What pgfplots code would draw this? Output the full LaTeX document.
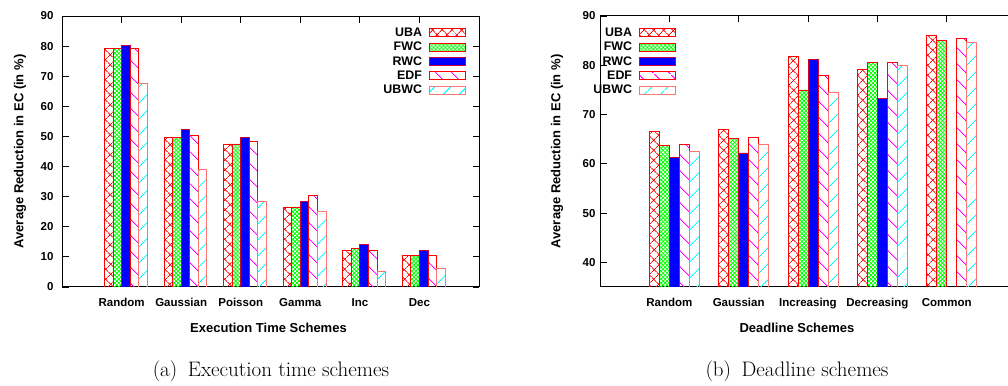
\documentclass[border=0pt]{standalone}
\usepackage{fontspec}
\usepackage{pgfplots}
\usepackage{pgfplotstable}
\pgfplotsset{compat=1.18}
\usetikzlibrary{patterns.meta}

\newfontfamily\gpfont{Liberation Sans}
\newcommand\lab{\gpfont\bfseries\fontsize{11.5bp}{13bp}\selectfont}
\newcommand\axlab{\gpfont\bfseries\fontsize{13bp}{15bp}\selectfont}
\newcommand\leglab{\gpfont\bfseries\fontsize{12.4bp}{14bp}\selectfont}

% Average reduction in EC (%) per execution time scheme
\pgfplotstableread{
x UBA  FWC  RWC  EDF  UBWC
0 79.1 79.1 80.2 79.3 67.6
1 49.6 49.6 52.3 50.5 39.2
2 47.5 47.5 49.8 48.2 28.3
3 26.6 26.6 28.5 30.5 25.0
4 12.1 12.8 14.0 12.1 5.3
5 10.5 10.5 12.0 10.6 6.2
}\exectable

% Average reduction in EC (%) per deadline scheme
\pgfplotstableread{
x UBA  FWC  RWC  EDF  UBWC
0 66.6 63.8 61.3 63.9 62.5
1 67.0 65.1 62.2 65.3 64.0
2 81.7 75.0 81.1 78.0 74.5
3 79.1 80.5 73.2 80.6 80.0
4 86.1 85.1 nan  85.4 84.7
}\deadtable

\pgfplotsset{
  sUBA/.style={draw=red, line width=0.8bp, bar shift=-0.216,
    pattern={Hatch[angle=45,distance=6.8bp,line width=0.8bp]}, pattern color=red},
  sFWC/.style={draw=red, line width=0.8bp, bar shift=-0.072,
    pattern={Hatch[angle=45,distance=2.8bp,line width=0.8bp]}, pattern color=green},
  sRWC/.style={draw=red!80!blue, line width=0.8bp, bar shift=0.072, fill=blue},
  sEDF/.style={draw=red, line width=0.8bp, bar shift=0.216,
    pattern={Lines[angle=-45,distance=11.8bp,line width=1bp]}, pattern color=magenta},
  sUBWC/.style={draw=red!55, line width=0.8bp, bar shift=0.36,
    pattern={Lines[angle=45,distance=11.8bp,line width=1bp]}, pattern color=cyan},
  gpbars/.style={
    scale only axis, height=271bp,
    ybar, bar width=0.144,
    xmin=-1, xtick={0,...,5},
    tick align=inside, major tick length=6.5bp,
    tick style={black, line width=0.8bp},
    axis line style={line width=1bp},
    ticklabel style={font=\lab},
    /pgf/number format/assume math mode=true,
    label style={font=\axlab},
    xticklabel style={yshift=-8bp},
    legend plot pos=right,
    legend cell align=right,
    legend style={draw=none, fill=none, font=\leglab, inner sep=0pt, outer sep=0pt,
      anchor=north east, row sep=4.75bp, column sep=7.3bp,
      nodes={inner sep=0pt, text height=8.9bp, text depth=0pt}},
    legend image code/.code={\draw[##1] (0bp,-4.8bp) rectangle (36bp,3.2bp);},
  },
}

\begin{document}
\begin{tikzpicture}
\useasboundingbox (0,0) rectangle (1008bp,386bp);

\begin{axis}[gpbars,
  at={(62bp,99bp)}, anchor=south west, width=417bp,
  xmax=6, ymin=0, ymax=90, ytick={0,10,...,90},
  xticklabels={Random,Gaussian,Poisson,Gamma,Inc,Dec},
  yticklabel style={xshift=-5bp},
  xlabel={Execution Time Schemes},
  xlabel style={at={(axis description cs:0.5,0)}, anchor=center, yshift=-41bp, xshift=-2bp},
  ylabel={Average Reduction in EC (in \%)},
  ylabel style={at={(axis description cs:-0.1007,0.5)}, anchor=center},
  legend style={at={(axis description cs:0.969,0.958)}},
]
\addplot[sUBA]  table[x=x,y=UBA]  {\exectable};
\addplot[sFWC]  table[x=x,y=FWC]  {\exectable};
\addplot[sRWC]  table[x=x,y=RWC]  {\exectable};
\addplot[sEDF]  table[x=x,y=EDF]  {\exectable};
\addplot[sUBWC] table[x=x,y=UBWC] {\exectable};
\legend{UBA,FWC,RWC,EDF,UBWC}
\end{axis}

\begin{axis}[gpbars,
  at={(600bp,99bp)}, anchor=south west, width=416bp,
  xmax=5, ymin=35, ymax=90, ytick={40,50,...,90},
  xtick={0,...,4},
  xticklabels={Random,Gaussian,Increasing,Decreasing,Common},
  yticklabel style={xshift=-1bp},
  xlabel={Deadline Schemes},
  xlabel style={at={(axis description cs:0.5,0)}, anchor=center, yshift=-41bp, xshift=-11bp},
  ylabel={Average Reduction in EC (in \%)},
  ylabel style={at={(axis description cs:-0.103,0.5)}, anchor=center},
  legend style={at={(axis description cs:0.183,0.958)}},
]
\addplot[sUBA]  table[x=x,y=UBA]  {\deadtable};
\addplot[sFWC]  table[x=x,y=FWC]  {\deadtable};
\addplot[sRWC]  table[x=x,y=RWC]  {\deadtable};
\addplot[sEDF]  table[x=x,y=EDF]  {\deadtable};
\addplot[sUBWC] table[x=x,y=UBWC] {\deadtable};
\legend{UBA,FWC,RWC,EDF,UBWC}
\end{axis}

\node[font=\fontsize{21bp}{23bp}\selectfont] at (271bp,15bp) {(a)\enspace Execution time schemes};
\node[font=\fontsize{21bp}{23bp}\selectfont] at (797bp,15bp) {(b)\enspace Deadline schemes};
\end{tikzpicture}
\end{document}
